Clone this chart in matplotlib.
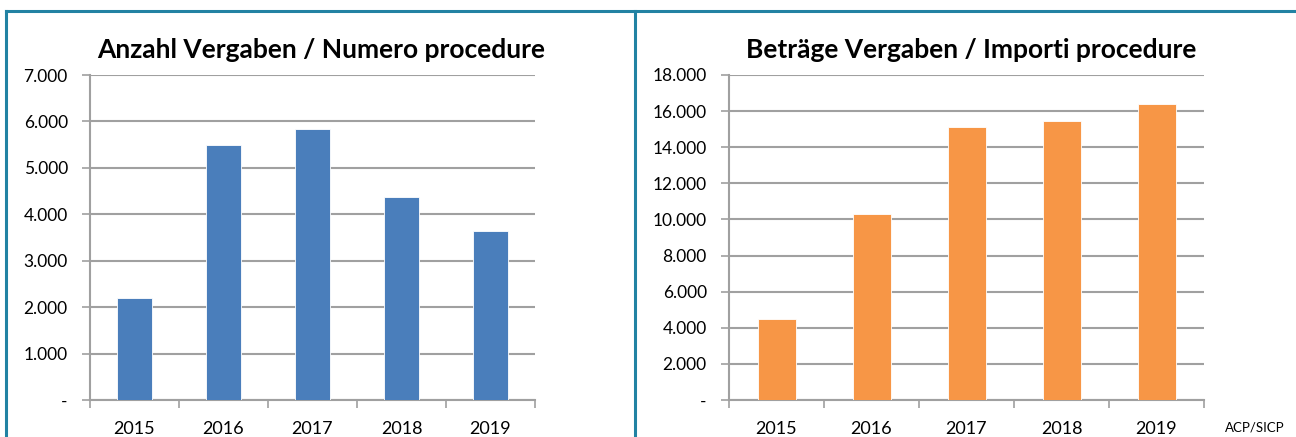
import numpy as np
import matplotlib.pyplot as plt
from matplotlib.lines import Line2D
from matplotlib.ticker import FuncFormatter, FixedLocator

plt.rcParams['font.family'] = ['Lato', 'DejaVu Sans']

# data
years = ['2015', '2016', '2017', '2018', '2019']
anzahl = [2190, 5500, 5840, 4380, 3630]
betraege = [4500, 10300, 15130, 15430, 16390]

titles = ['Anzahl Vergaben / Numero procedure', 'Beträge Vergaben / Importi procedure']
colors = ['#4a7ebb', '#f79646']
grid_col = '#a0a0a0'
frame_col = '#2282a3'


def dotted(v, pos):
    if v == 0:
        return '-'
    return f'{int(v):,}'.replace(',', '.')


fig = plt.figure(figsize=(12.96, 4.37), dpi=100)
W, H = 1296, 437

# axes boxes in pixels: left, bottom(px from top), width, height
boxes = [(90, 400, 445, 325), (729, 400, 475, 325)]
title_x = [321, 971]
values = [anzahl, betraege]
ylims = [(0, 7000, 1000), (0, 18000, 2000)]

for box, tx, vals, col, title, (y0, y1, step) in zip(boxes, title_x, values, colors, titles, ylims):
    x0, yb, w, h = box
    ax = fig.add_axes([x0 / W, 1 - yb / H, w / W, h / H])
    x = np.arange(len(years))
    ax.bar(x, vals, width=0.4, color=col, edgecolor='white', linewidth=0.6, zorder=3)
    ax.set_xlim(-0.5, len(years) - 0.5)
    ax.set_ylim(y0, y1)
    ax.set_yticks(np.arange(y0, y1 + 1, step))
    ax.yaxis.set_major_formatter(FuncFormatter(dotted))
    ax.yaxis.grid(True, color=grid_col, linewidth=1.5, zorder=0)
    ax.set_xticks(x)
    ax.set_xticklabels(years)
    ax.xaxis.set_minor_locator(FixedLocator(np.arange(-0.5, len(years), 1.0)))
    ax.tick_params(axis='x', which='major', length=0, labelsize=13, pad=15)
    ax.tick_params(axis='x', which='minor', length=6, width=1.2, color=grid_col, direction='out')
    ax.tick_params(axis='y', length=6, width=1.2, color=grid_col, labelsize=12.5, pad=10)
    for s in ['top', 'right']:
        ax.spines[s].set_visible(False)
    for s in ['left', 'bottom']:
        ax.spines[s].set_color(grid_col)
        ax.spines[s].set_linewidth(1.5)
    fig.text(tx / W, 1 - 50 / H, title, fontsize=19, fontweight='bold', ha='center', va='center')

# frame lines around the panels
fig.add_artist(Line2D([6 / W, 1], [1 - 11 / H, 1 - 11 / H], color=frame_col, linewidth=2.2))
fig.add_artist(Line2D([6 / W, 6 / W], [0, 1 - 11 / H], color=frame_col, linewidth=2.2))
fig.add_artist(Line2D([635 / W, 635 / W], [0, 1 - 11 / H], color=frame_col, linewidth=2.2))

fig.text(1225 / W, 1 - 428 / H, 'ACP/SICP', fontsize=9.5, va='center', ha='left')

fig.savefig('out.png', dpi=100)
